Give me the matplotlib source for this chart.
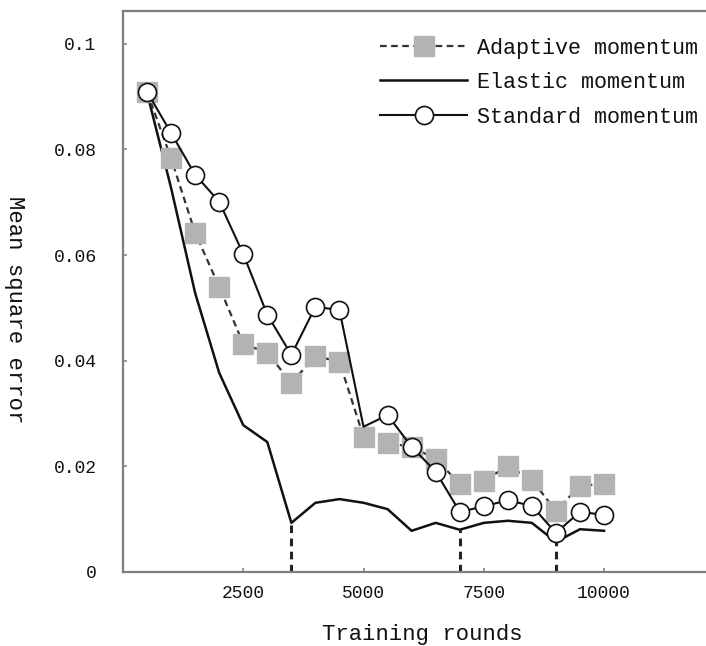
import matplotlib
matplotlib.use("Agg")
import matplotlib.pyplot as plt

rounds = [500, 1000, 1500, 2000, 2500, 3000, 3500, 4000, 4500, 5000,
          5500, 6000, 6500, 7000, 7500, 8000, 8500, 9000, 9500, 10000]
adaptive = [0.0909, 0.0783, 0.0642, 0.0540, 0.0432, 0.0415, 0.0358, 0.0409, 0.0398, 0.0256,
            0.0244, 0.0237, 0.0214, 0.0167, 0.0172, 0.0201, 0.0174, 0.0116, 0.0163, 0.0167]
elastic = [0.0907, 0.0727, 0.0528, 0.0377, 0.0278, 0.0246, 0.0093, 0.0131, 0.0138, 0.0131,
           0.0119, 0.0078, 0.0093, 0.0080, 0.0093, 0.0097, 0.0093, 0.0057, 0.0081, 0.0078]
standard = [0.0909, 0.0831, 0.0752, 0.0701, 0.0602, 0.0487, 0.0411, 0.0502, 0.0496, 0.0275,
            0.0297, 0.0237, 0.0190, 0.0114, 0.0124, 0.0136, 0.0125, 0.0074, 0.0114, 0.0108]
drop_rounds = [3500, 7000, 9000]
xticks = [2500, 5000, 7500, 10000]
yticks = [0, 0.02, 0.04, 0.06, 0.08, 0.1]
ytick_labels = ["0", "0.02", "0.04", "0.06", "0.08", "0.1"]

plt.rcParams['font.family'] = ['Liberation Mono', 'DejaVu Sans Mono']

fig = plt.figure(figsize=(7.06, 6.46), dpi=100)
ax = fig.add_axes([123/706, 74/646, 583/706, 561/646])

ax.plot(rounds, elastic, color='#111111', lw=1.8, zorder=2, label='Elastic momentum')
for r in drop_rounds:
    yv = elastic[rounds.index(r)]
    ax.plot([r, r], [0, yv], color='#222222', lw=2.2, ls=(0, (2.5, 1.8)), zorder=2)

ax.plot(rounds, adaptive, color='#333333', lw=1.6, ls=(0, (3, 2)), marker='s', ms=14,
        mfc='#b3b3b3', mec='#b3b3b3', zorder=3, label='Adaptive momentum')
marks = [i for i in range(len(rounds)) if rounds[i] != 5000]
ax.plot(rounds, standard, color='#111111', lw=1.5, marker='o', ms=13, mfc='white',
        mec='#111111', mew=1.2, markevery=marks, zorder=4, label='Standard momentum')

ax.set_xlim(0, 12120)
ax.set_ylim(0, 0.1062)
ax.set_xticks(xticks)
ax.set_xticklabels([str(t) for t in xticks])
ax.set_yticks(yticks)
ax.set_yticklabels(ytick_labels)
ax.tick_params(axis='both', direction='in', length=3, width=1.2, color='#888888',
               labelsize=13, labelcolor='#111111')
ax.tick_params(axis='y', pad=19)
ax.tick_params(axis='x', pad=9)

for s in ['left', 'bottom', 'top']:
    ax.spines[s].set_color('#7f7f7f')
    ax.spines[s].set_linewidth(1.6)
ax.spines['right'].set_visible(False)

ax.set_xlabel('Training rounds', fontsize=16, color='#111111')
ax.xaxis.set_label_coords(0.513, -0.092)
ax.set_ylabel('Mean square error', fontsize=16, color='#111111', rotation=-90,
              va='center', ha='center')
ax.yaxis.set_label_coords(-0.186, 0.467)

handles, labels = ax.get_legend_handles_labels()
order = [labels.index('Adaptive momentum'), labels.index('Elastic momentum'),
         labels.index('Standard momentum')]
leg = ax.legend([handles[i] for i in order], [labels[i] for i in order],
                loc='upper right', bbox_to_anchor=(1.009, 0.976), frameon=False,
                fontsize=15.7, handlelength=4.0, handletextpad=0.45, labelspacing=0.62,
                borderaxespad=0.2)
for t in leg.get_texts():
    t.set_color('#111111')

fig.savefig('out.png', dpi=100)
